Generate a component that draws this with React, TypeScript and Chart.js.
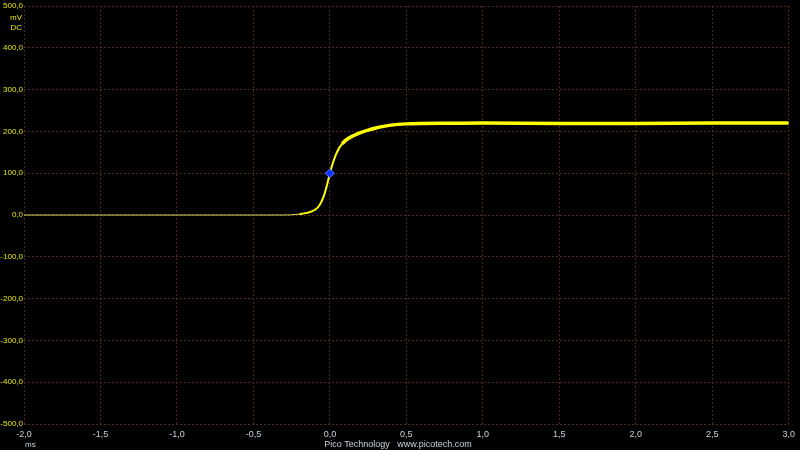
import React, { useEffect, useRef } from "react";
import { Chart, registerables } from "chart.js";

Chart.register(...registerables);

const timesMs = [-2.0, -1.5, -1.0, -0.5, -0.3, -0.25, -0.2, -0.15, -0.1, -0.07, -0.04, -0.02, 0, 0.02, 0.04, 0.06, 0.08, 0.1, 0.15, 0.2, 0.25, 0.3, 0.35, 0.4, 0.5, 0.6, 0.8, 1.0, 1.5, 2.0, 2.5, 3.0];
const voltsMv = [0, 0, 0, 0, 0, 0.5, 2, 5, 12, 22, 45, 70, 100, 125, 145, 160, 170, 178, 189, 197, 203, 208, 212, 215, 218, 219, 219.5, 220, 219, 219, 220, 220];
const markerPoint = [{ x: 0, y: 100 }];
const xTicks = [-2.0, -1.5, -1.0, -0.5, 0, 0.5, 1.0, 1.5, 2.0, 2.5, 3.0];
const yTicks = [-500, -400, -300, -200, -100, 0, 100, 200, 300, 400, 500];

const fmt = (v: number) => v.toFixed(1).replace(".", ",");

export default function App() {
  const ref = useRef<HTMLCanvasElement>(null);
  useEffect(() => {
    document.body.style.margin = "0";
    document.body.style.background = "#000";
    const ctx = ref.current!.getContext("2d")!;
    const grid = "#552818";
    const extras = {
      id: "extras",
      afterDraw(chart: any) {
        const c = chart.ctx;
        c.save();
        c.font = "8px 'Liberation Sans'";
        c.fillStyle = "#e6e600";
        c.textAlign = "right";
        c.textBaseline = "middle";
        c.fillText("mV", 22, 18);
        c.fillText("DC", 22, 28);
        c.fillStyle = "#c8d4e0";
        c.textAlign = "left";
        c.fillText("ms", 25, 445);
        c.font = "9px 'Liberation Sans'";
        c.textAlign = "center";
        c.fillText("Pico Technology   www.picotech.com", 398, 445);
        c.restore();
      },
    };
    const chart = new Chart(ctx, {
      type: "line",
      data: {
        datasets: [
          {
            data: timesMs.map((t, i) => ({ x: t, y: voltsMv[i] })),
            borderColor: "#ffff00",
            borderWidth: 3,
            pointRadius: 0,
            cubicInterpolationMode: "monotone",
            segment: {
              borderWidth: (s: any) => (s.p0.parsed.x < -0.2 ? 1 : s.p0.parsed.x < 0.08 ? 2 : 3.5),
              borderColor: (s: any) => (s.p0.parsed.x < -0.2 ? "#dcdc60" : "#ffff00"),
            },
            order: 2,
          } as any,
          {
            data: markerPoint,
            showLine: false,
            pointStyle: "rectRot",
            pointRadius: 4.5,
            pointBackgroundColor: "#1030ff",
            pointBorderColor: "#6080ff",
            pointBorderWidth: 1,
            order: 1,
          } as any,
        ],
      },
      options: {
        animation: false,
        responsive: false,
        maintainAspectRatio: false,
        layout: { padding: { left: 0, right: 11, top: 6, bottom: 0 } },
        plugins: { legend: { display: false }, tooltip: { enabled: false } },
        scales: {
          x: {
            type: "linear",
            min: -2,
            max: 3,
            afterFit: (s: any) => { s.height = 26; },
            afterBuildTicks: (s: any) => { s.ticks = xTicks.map((v) => ({ value: v })); },
            grid: { color: grid, lineWidth: 1, drawTicks: false },
            border: { display: false, dash: [2, 2] },
            ticks: {
              color: "#c8d4e0",
              font: { family: "'Liberation Sans'", size: 9 },
              padding: 5,
              maxRotation: 0,
              callback: (v: any) => fmt(Number(v)),
            },
          },
          y: {
            type: "linear",
            min: -500,
            max: 500,
            afterFit: (s: any) => { s.width = 24; },
            afterBuildTicks: (s: any) => { s.ticks = yTicks.map((v) => ({ value: v })); },
            grid: { color: grid, lineWidth: 1, drawTicks: false },
            border: { display: false, dash: [2, 2] },
            ticks: {
              color: "#e6e600",
              font: { family: "'Liberation Sans'", size: 8 },
              padding: 1,
              callback: (v: any) => fmt(Number(v)),
            },
          },
        },
      },
      plugins: [extras],
    });
    return () => chart.destroy();
  }, []);
  return (
    <div style={{ position: "fixed", left: 0, top: 0, width: 800, height: 450, background: "#000" }}>
      <canvas ref={ref} width={800} height={450} style={{ width: 800, height: 450, display: "block" }} />
    </div>
  );
}
